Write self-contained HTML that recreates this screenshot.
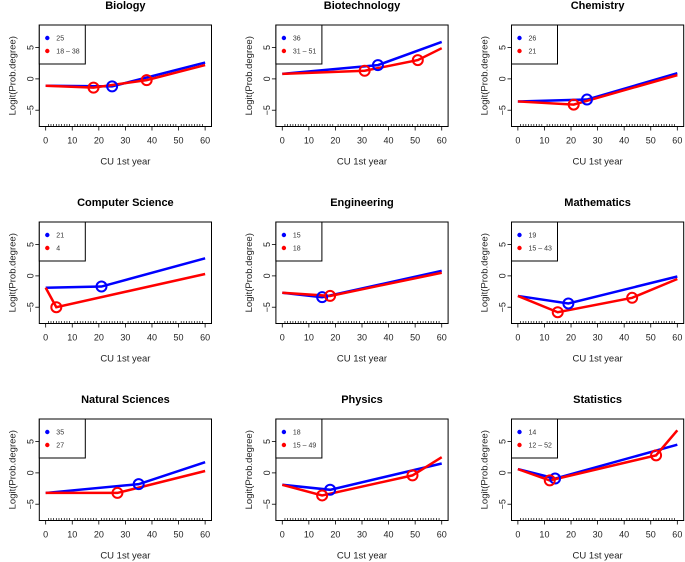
<!DOCTYPE html>
<html><head><meta charset="utf-8"><style>
html,body{margin:0;padding:0;background:#fff;}
svg{display:block;font-family:"Liberation Sans",sans-serif;}
</style></head><body>
<svg id="c" width="685" height="562"></svg>
<script>
const titles=["Biology","Biotechnology","Chemistry","Computer Science","Engineering","Mathematics","Natural Sciences","Physics","Statistics"];
const blueX=[[0,25,60],[0,36,60],[0,26,60],[0,21,60],[0,15,60],[0,19,60],[0,35,60],[0,18,60],[0,14,60]];
const blueY=[[-1.1,-1.2,2.6],[0.8,2.2,5.9],[-3.6,-3.3,0.9],[-1.9,-1.7,2.8],[-2.7,-3.4,0.8],[-3.2,-4.4,-0.1],[-3.2,-1.8,1.7],[-1.9,-2.7,1.5],[0.6,-0.9,4.5]];
const redX=[[0,18,38,60],[0,31,51,60],[0,21,60],[0,4,60],[0,18,60],[0,15,43,60],[0,27,60],[0,15,49,60],[0,12,52,60]];
const redY=[[-1.1,-1.4,-0.2,2.2],[0.8,1.3,3.0,4.9],[-3.6,-4.1,0.6],[-1.9,-5.0,0.3],[-2.7,-3.2,0.5],[-3.2,-5.8,-3.5,-0.5],[-3.2,-3.2,0.3],[-1.9,-3.6,-0.4,2.5],[0.6,-1.2,2.8,6.8]];
const blueLabel=["25","36","26","21","15","19","35","18","14"];
const redLabel=["18 \u2013 38","31 \u2013 51","21","4","18","15 \u2013 43","27","15 \u2013 49","12 \u2013 52"];
const xTicks=[0,10,20,30,40,50,60];
const yTicks=[-5,0,5];
const rugX=[1,2,3,4,5,6,7,8,9,11,12,13,14,15,16,17,18,19,21,22,23,24,25,26,27,28,29,31,32,33,34,35,36,37,38,39,41,42,43,44,45,46,47,48,49,51,52,53,54,55,56,57,58,59];

const svg=document.getElementById('c');
const NS="http://www.w3.org/2000/svg";
function mk(tag,attrs,parent){const e=document.createElementNS(NS,tag);for(const k in attrs)e.setAttribute(k,attrs[k]);parent.appendChild(e);return e;}

titles.forEach((t,i)=>{
  const ox=[0,236.6,472.2][i%3], oy=Math.floor(i/3)*197;
  const g=mk('g',{transform:`translate(${ox},${oy})`},svg);
  
  
  const L=39.3,R=211.5,T=25,B=126.5;
  const sx=v=>L+(v+2.4)/64.8*(R-L);
  const sy=v=>B-(v+7.6)/16.2*(B-T);
  const tt=mk('text',{x:(L+R)/2,y:9,'text-anchor':'middle','font-size':'11','font-weight':'bold'},g);tt.textContent=t;
  
  
  const box=mk('rect',{x:L,y:T,width:R-L,height:B-T,fill:'none',stroke:'#000','stroke-width':1},g);
  
  
  xTicks.forEach(v=>{
    mk('line',{x1:sx(v),x2:sx(v),y1:B,y2:B+4,stroke:'#000','stroke-width':0.8},g);
    const tx=mk('text',{x:sx(v),y:B+17,'text-anchor':'middle','font-size':'9',fill:'#222'},g);tx.textContent=v;
    
    
  });
  mk('line',{x1:sx(0),x2:sx(60),y1:B,y2:B,stroke:'#000','stroke-width':0.8},g);
  yTicks.forEach(v=>{
    mk('line',{x1:L,x2:L-4,y1:sy(v),y2:sy(v),stroke:'#000','stroke-width':0.8},g);
    const tx=mk('text',{x:0,y:0,'text-anchor':'middle','font-size':'9',fill:'#222',transform:`translate(${L-6},${sy(v)}) rotate(-90)`},g);tx.textContent=(v<0?'\u2212'+(-v):v);
    
    
  });
  mk('line',{x1:L,x2:L,y1:sy(-5),y2:sy(5),stroke:'#000','stroke-width':0.8},g);
  rugX.forEach(v=>{mk('line',{x1:sx(v),x2:sx(v),y1:B-2.5,y2:B,stroke:'#000','stroke-width':0.7},g);});
  const xl=mk('text',{x:(L+R)/2,y:B+38,'text-anchor':'middle','font-size':'9.5',fill:'#222'},g);xl.textContent='CU 1st year';
  
  
  const yl=mk('text',{x:0,y:0,'text-anchor':'middle','font-size':'9.5',fill:'#222',transform:`translate(${L-24},${(T+B)/2}) rotate(-90)`},g);yl.textContent='Logit(Prob.degree)';
  
  
  const bp=blueX[i].map((x,k)=>sx(x)+','+sy(blueY[i][k])).join(' ');
  const bl=mk('polyline',{points:bp,fill:'none',stroke:'#0000ff','stroke-width':2.5},g);
  
  
  const rp=redX[i].map((x,k)=>sx(x)+','+sy(redY[i][k])).join(' ');
  const rl=mk('polyline',{points:rp,fill:'none',stroke:'#ff0000','stroke-width':2.5},g);
  
  
  for(let k=1;k<blueX[i].length-1;k++){
    const c=mk('circle',{cx:sx(blueX[i][k]),cy:sy(blueY[i][k]),r:5,fill:'none',stroke:'#0000ff','stroke-width':2},g);
    
    
  }
  for(let k=1;k<redX[i].length-1;k++){
    const c=mk('circle',{cx:sx(redX[i][k]),cy:sy(redY[i][k]),r:5,fill:'none',stroke:'#ff0000','stroke-width':2},g);
    
    
  }
  const lg=mk('g',{},g);
  
  
  mk('rect',{x:L,y:T,width:46,height:39,fill:'#fff',stroke:'#000','stroke-width':1},lg);
  mk('circle',{cx:L+8,cy:T+13,r:2.2,fill:'#0000ff'},lg);
  mk('circle',{cx:L+8,cy:T+26,r:2.2,fill:'#ff0000'},lg);
  const t1=mk('text',{x:L+17,y:T+15.5,'font-size':'7',fill:'#333'},lg);t1.textContent=blueLabel[i];
  
  
  const t2=mk('text',{x:L+17,y:T+28.5,'font-size':'7',fill:'#333'},lg);t2.textContent=redLabel[i];
  
  
});
</script>
</body></html>
